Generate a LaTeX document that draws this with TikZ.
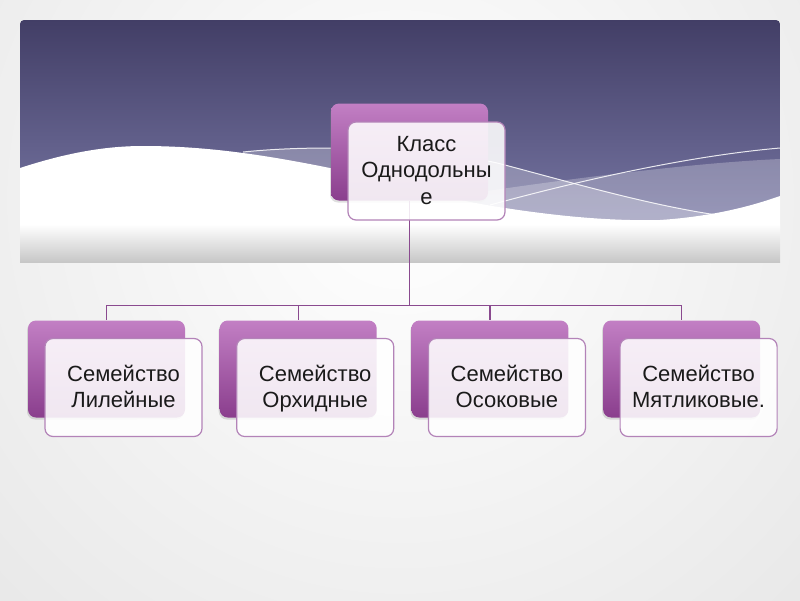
\documentclass[tikz,border=0pt]{standalone}
\usepackage{fontspec}
\setmainfont{Liberation Sans}
\usetikzlibrary{shadows}
\definecolor{bandtop}{HTML}{423E66}
\definecolor{bandbot}{HTML}{8080AE}
\definecolor{ptop}{HTML}{C27FC4}
\definecolor{pbot}{HTML}{8A3E8D}
\definecolor{fborder}{HTML}{B383B8}
\definecolor{conn}{HTML}{8A4A8F}
\definecolor{txt}{HTML}{1A1A1A}
\newcommand{\bx}{\rule[-6pt]{0pt}{25.5pt}}
\begin{document}
\begin{tikzpicture}[x=1pt,y=1pt,
  backbox/.style={rectangle, rounded corners=8pt, minimum width=157pt, minimum height=97pt,
    top color=ptop, bottom color=pbot, draw=none, inner sep=0pt,
    drop shadow={opacity=0.25, shadow xshift=-1pt, shadow yshift=-2pt}},
  frontbox/.style={rectangle, rounded corners=8pt, minimum width=157pt, minimum height=98pt,
    fill=white, fill opacity=0.88, text opacity=1, draw=fborder, line width=1.2pt,
    align=center, text=txt, font=\fontsize{22}{23.5}\selectfont, inner sep=2pt},
  link/.style={draw=conn, line width=1.2pt},
  waveline/.style={draw=white, line width=1pt, opacity=0.85}]
\useasboundingbox (0,0) rectangle (800,-600);
% page background
\shade[inner color=white, outer color=black!17] (-700,900) rectangle (1500,-1300);
% dark band
\shade[top color=bandtop, bottom color=bandbot, rounded corners=4pt] (20,-20) rectangle (780,-262);
% light translucent bands
\fill[white, opacity=0.25] (243,-152) .. controls (330,-143) and (450,-150) .. (505,-165)
  .. controls (580,-185) and (650,-205) .. (717,-215) -- (717,-240) -- (243,-240) -- cycle;
\fill[white, opacity=0.25] (460,-195) .. controls (560,-180) and (690,-163) .. (780,-159)
  -- (780,-240) -- (460,-240) -- cycle;
% white wave
\fill[white] (20,-168) .. controls (60,-155) and (100,-146) .. (143,-146)
  .. controls (210,-146) and (270,-156) .. (330,-168)
  .. controls (400,-185) and (450,-200) .. (505,-208)
  .. controls (570,-218) and (620,-221) .. (660,-220)
  .. controls (720,-216) and (760,-203) .. (780,-196)
  -- (780,-262) -- (20,-262) -- cycle;
\shade[top color=white, bottom color=black!22] (20,-224) rectangle (780,-262);
% thin wave lines
\draw[waveline] (243,-152) .. controls (330,-143) and (450,-150) .. (505,-165)
  .. controls (580,-185) and (650,-205) .. (717,-215);
\draw[waveline] (490,-205) .. controls (600,-175) and (700,-155) .. (780,-148);
% back boxes
\node[backbox] (b0) at (409.5,-152) {};
\node[backbox] (b1) at (106.5,-369) {};
\node[backbox] (b2) at (298.2,-369) {};
\node[backbox] (b3) at (489.9,-369) {};
\node[backbox] (b4) at (681.6,-369) {};
% connectors
\path (b0.south) ++(0,-104.5) coordinate (hub);
\draw[link] (b0.south) -- (hub);
\draw[link] (hub) -| (b1.north);
\draw[link] (hub) -| (b2.north);
\draw[link] (hub) -| (b3.north);
\draw[link] (hub) -| (b4.north);
% front boxes
\node[frontbox] (f0) at (426.5,-171) {\bx Класс\\\bx Однодольны\\\bx е};
\node[frontbox] (f1) at (123.5,-387.5) {\bx Семейство\\\bx Лилейные};
\node[frontbox] (f2) at (315.2,-387.5) {\bx Семейство\\\bx Орхидные};
\node[frontbox] (f3) at (506.9,-387.5) {\bx Семейство\\\bx Осоковые};
\node[frontbox] (f4) at (698.6,-387.5) {\bx Семейство\\\bx Мятликовые.};
\end{tikzpicture}
\end{document}
